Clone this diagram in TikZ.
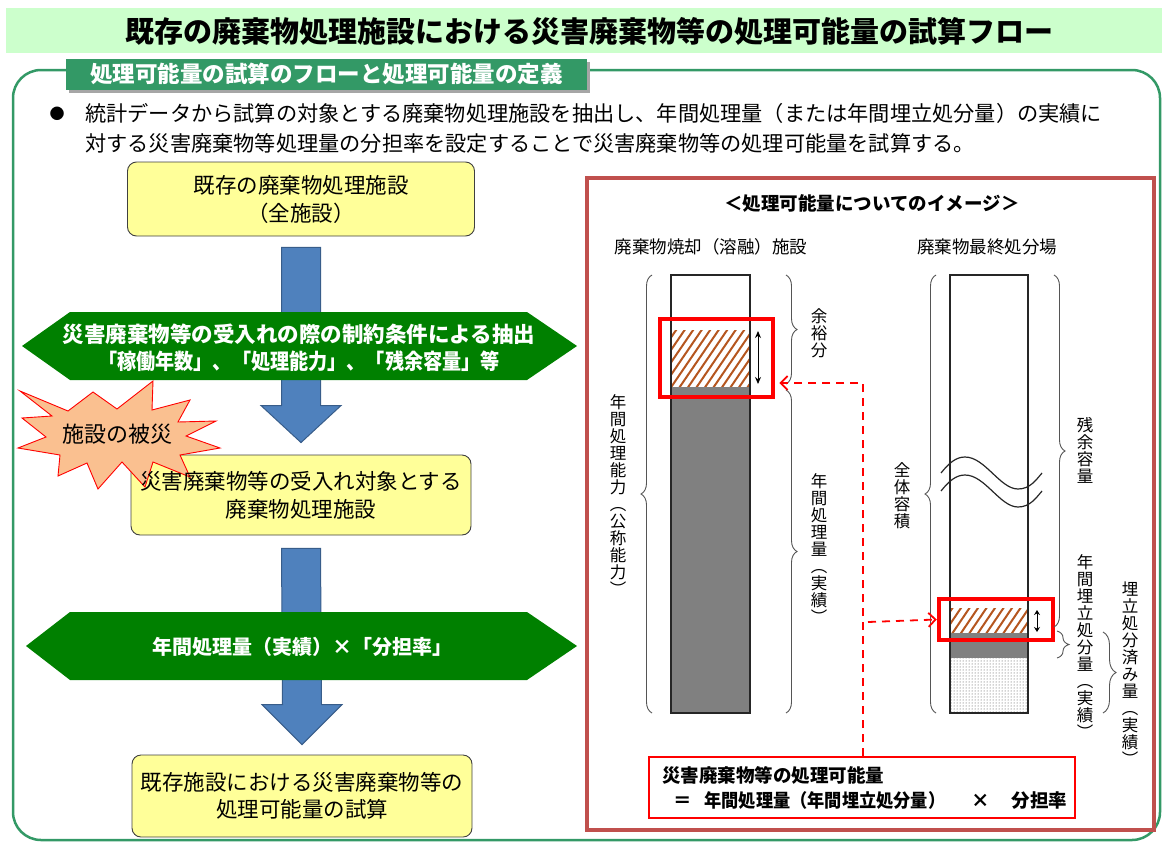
\documentclass[tikz,border=0pt]{standalone}
\usepackage{graphicx}
\usepackage{fontspec}
\setmainfont{Noto Sans CJK JP}
\usetikzlibrary{calc,arrows.meta,decorations.pathreplacing,patterns}
\definecolor{banner}{HTML}{CCFFCC}
\definecolor{tealg}{HTML}{339966}
\definecolor{boxy}{HTML}{FFFF99}
\definecolor{arrowblue}{HTML}{4F81BD}
\definecolor{arrowedge}{HTML}{385D8A}
\definecolor{hexg}{HTML}{008000}
\definecolor{starfill}{HTML}{FAC090}
\definecolor{panelred}{HTML}{C0504D}
\definecolor{hatchbrown}{HTML}{B5561F}
\definecolor{colgray}{HTML}{808080}
\definecolor{bracegray}{HTML}{555555}
\newcommand\fsz[2]{\fontsize{#1}{#2}\selectfont}
\begin{document}
\begin{tikzpicture}[x=1pt,y=-1pt,
  flowbox/.style={draw=black!75, fill=boxy, rounded corners=9pt, line width=0.9pt, inner sep=0pt},
  flowtext/.style={align=center, inner sep=0pt, font=\fsz{21.5}{28}},
  blockarrow/.style={fill=arrowblue, draw=arrowedge, line width=1pt, line join=miter},
  hexstyle/.style={fill=hexg},
  hextext/.style={align=center, inner sep=0pt, text=white, font=\bfseries\fsz{21}{27}},
  vlabel/.style={align=center, inner sep=0pt, font=\fsz{16.5}{17}},
  bracestyle/.style={decorate, decoration={brace, amplitude=#1}, draw=bracegray, line width=0.9pt},
  hatchline/.style={draw=hatchbrown, line width=2pt},
  redbox/.style={draw=red, line width=4.5pt, inner sep=0pt},
  reddash/.style={draw=red, line width=1.8pt, dash pattern=on 8pt off 6pt, -{Straight Barb[length=7pt,width=14pt]}},
  dblarrow/.style={{Stealth[length=7pt,width=6pt]}-{Stealth[length=7pt,width=6pt]}, line width=1pt},
  colbox/.style={draw=black!85, line width=1.2pt, inner sep=0pt}
]
\useasboundingbox (0,0) rectangle (1162,841);
% title banner
\fill[banner] (6,8) rectangle (1162,53);
\node[font=\bfseries\fsz{29}{29}] (title) at (589,31) {既存の廃棄物処理施設における災害廃棄物等の処理可能量の試算フロー};
% outer frame
\draw[tealg, line width=2.5pt, rounded corners=28pt] (13,70) rectangle (1160,840);
% tab
\fill[black!35] (69,62) rectangle (590,93);
\node[fill=tealg, minimum width=521pt, minimum height=31pt, inner sep=0pt, text=white, font=\bfseries\fsz{22.5}{22.5}] (tab) at (326.5,74) {処理可能量の試算のフローと処理可能量の定義};
% intro
\node[font=\fsz{15}{15}] (bullet) at (57,114) {●};
\node[anchor=west, align=left, inner sep=0pt, font=\fsz{21.2}{30}] (intro) at (85,128) {統計データから試算の対象とする廃棄物処理施設を抽出し、年間処理量（または年間埋立処分量）の実績に\\対する災害廃棄物等処理量の分担率を設定することで災害廃棄物等の処理可能量を試算する。};

% left flow
\node[flowbox, flowtext, minimum width=347pt, minimum height=74pt] (box1) at (301,199) {既存の廃棄物処理施設\\（全施設）};
\node[flowbox, minimum width=340pt, minimum height=80pt] (box2) at (301,495) {};
\node[flowbox, flowtext, font=\fsz{21.5}{27}, minimum width=340pt, minimum height=82pt] (box3) at (302,796) {既存施設における災害廃棄物等の\\処理可能量の試算};

% block arrows
\draw[blockarrow] ($(box1.south)+(-19.5,11)$) -- ($(box1.south)+(19.5,11)$) -- ($(box2.north)+(19.5,-49)$) -- ($(box2.north)+(40,-49)$) -- ($(box2.north)+(0,-12)$) -- ($(box2.north)+(-40,-49)$) -- ($(box2.north)+(-19.5,-49)$) -- cycle;
\draw[blockarrow] ($(box2.south)+(-19.5,13)$) -- ($(box2.south)+(19.5,13)$) -- ($(box3.north)+(19.5,-50)$) -- ($(box3.north)+(40,-50)$) -- ($(box3.north)+(0,-10)$) -- ($(box3.north)+(-40,-50)$) -- ($(box3.north)+(-19.5,-50)$) -- cycle;

% hexagons
\fill[hexstyle] (22,346) -- (70,312) -- (527,312) -- (577,346) -- (527,380) -- (70,380) -- cycle;
\node[hextext, font=\bfseries\fsz{21.5}{27}] (hex1) at (299,348) {災害廃棄物等の受入れの際の制約条件による抽出\\\scalebox{0.89}[1]{「稼働年数」、「処理能力」、「残余容量」等}};
\fill[hexstyle] (26,646) -- (70,612) -- (527,612) -- (577,646) -- (527,680) -- (70,680) -- cycle;
\node[hextext, font=\bfseries\fsz{20}{20}] (hex2) at (302,647) {年間処理量（実績）×「分担率」};

% explosion
\draw[fill=starfill, draw=red, line width=0.9pt, line join=miter] (20,391) -- (68,411) -- (93,392) -- (117,409) -- (153,381) -- (152,410) -- (190,400) -- (178,422) -- (216,421) -- (186,436) -- (220,448) -- (180,455) -- (190,477) -- (153,462) -- (145,487) -- (122,462) -- (98,489) -- (87,463) -- (58,476) -- (60,455) -- (18,448) -- (46,437) -- (22,418) -- (52,416) -- cycle;
\node[font=\fsz{22}{22}, inner sep=0pt] (star) at (117,434) {施設の被災};
\node[flowtext] (box2text) at (box2.center) {災害廃棄物等の受入れ対象とする\\廃棄物処理施設};

% right panel
\draw[panelred, line width=4pt] (587,178) rectangle (1154,830);
\node[font=\bfseries\fsz{18.5}{18.5}] (ptitle) at (872,203) {＜処理可能量についてのイメージ＞};
\node[font=\fsz{17.5}{17.5}] (labA) at (711,247) {廃棄物焼却（溶融）施設};
\node[font=\fsz{17.5}{17.5}] (labB) at (987,247) {廃棄物最終処分場};

% column A
\begin{scope}
\clip (671,330) rectangle (750,387);
\foreach \i in {0,...,15} \draw[hatchline] (626+\i*8.5,391) -- ++(43,-63);
\end{scope}
\fill[colgray] (671,387) rectangle (750,713);
\node[colbox, minimum width=79pt, minimum height=438pt] (colA) at (710.5,494) {};
\draw[dblarrow] (758,331) -- (758,384);

% column B
\begin{scope}
\clip (950,608) rectangle (1028,633);
\foreach \i in {0,...,13} \draw[hatchline] (925+\i*8.5,636) -- ++(21,-31);
\end{scope}
\fill[colgray] (950,633) rectangle (1028,658);
\path[pattern=dots, pattern color=black!75] (950,658) rectangle (1028,713);
\node[colbox, minimum width=78pt, minimum height=438pt] (colB) at (989,494) {};
\draw[dblarrow, {Stealth[length=5pt,width=6pt]}-{Stealth[length=5pt,width=6pt]}] (1037,610) -- (1037,632);
\draw[black!85, line width=1.2pt] (941,473) .. controls (949,463) and (956,457) .. (965,457) .. controls (985,457) and (1000,489) .. (1018,489) .. controls (1030,489) and (1036,480) .. (1042,473);
\draw[black!85, line width=1.2pt] (941,491) .. controls (949,481) and (956,475) .. (965,475) .. controls (985,475) and (1000,507) .. (1018,507) .. controls (1030,507) and (1036,498) .. (1042,491);

% red boxes
\node[redbox, minimum width=113pt, minimum height=78pt] (rboxA) at (716.5,358) {};
\node[redbox, minimum width=114pt, minimum height=41pt] (rboxB) at (996,619.5) {};

% braces
\draw[bracestyle=11pt] (652,713) -- (652,275);
\draw[bracestyle=11pt] (786,275) -- (786,384);
\draw[bracestyle=11pt] (786,390) -- (786,713);
\draw[bracestyle=11pt] (936,713) -- (936,275);
\draw[bracestyle=11pt] (1054,275) -- (1054,627);
\draw[bracestyle=12pt] (1057,631) -- (1057,658);
\draw[bracestyle=13pt] (1103,632) -- (1103,713);

% vertical labels
\node[vlabel] (vA) at (618,495) {年\\間\\処\\理\\能\\力\\︵\\公\\称\\能\\力\\︶};
\node[vlabel] (vYoyu) at (819,333) {余\\裕\\分};
\node[vlabel] (vJisseki) at (819,549) {年\\間\\処\\理\\量\\︵\\実\\績\\︶};
\node[vlabel] (vZentai) at (902,496) {全\\体\\容\\積};
\node[vlabel] (vZanyo) at (1085,450) {残\\余\\容\\量};
\node[vlabel] (vMaiA) at (1085,647) {年\\間\\埋\\立\\処\\分\\量\\︵\\実\\績\\︶};
\node[vlabel] (vMaiB) at (1130,674) {埋\\立\\処\\分\\済\\み\\量\\︵\\実\\績\\︶};

% formula box
\node[draw=red, line width=2pt, fill=white, text width=400pt, inner xsep=13pt, inner ysep=0pt, minimum height=61pt, align=left, font=\bfseries\fsz{18.5}{25}] (fbox) at (862,787.5) {災害廃棄物等の処理可能量\\\makebox[400pt][l]{\hspace*{11pt}＝\hspace{13pt}\scalebox{0.93}[1]{年間処理量（年間埋立処分量）}\hspace{26pt}×\hspace{22pt}分担率}};

% dashed connectors
\coordinate (jx) at (863,622);
\draw[reddash] (fbox.north -| jx) |- ($(rboxA.east)+(4,25)$);
\draw[reddash] ($(jx)+(5,0)$) -- (rboxB.west);
\end{tikzpicture}
\end{document}
